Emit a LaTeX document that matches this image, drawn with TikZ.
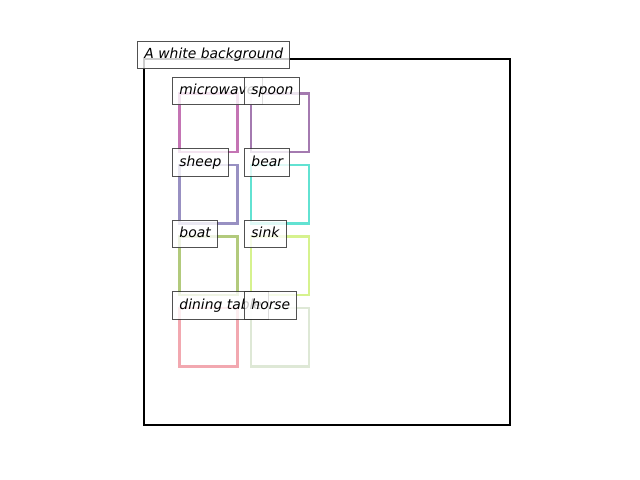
\documentclass[tikz,border=0pt]{standalone}
\usepackage{fontspec}
\setmainfont{DejaVu Sans}
\definecolor{cMicrowave}{HTML}{C474B4}
\definecolor{cSpoon}{HTML}{A47AB0}
\definecolor{cSheep}{HTML}{9890C2}
\definecolor{cBear}{HTML}{62E2D2}
\definecolor{cBoat}{HTML}{B2CA7C}
\definecolor{cSink}{HTML}{D6F28E}
\definecolor{cDining}{HTML}{F2A8B0}
\definecolor{cHorse}{HTML}{DEE8D6}
\begin{document}
\begin{tikzpicture}[x=0.72pt,y=-0.72pt]
				\tikzstyle{Square} = [draw, line width=1.9pt, minimum size=42pt, inner sep=0pt]
				\tikzstyle{Label} = [anchor=north west, draw=black!80, draw opacity=0.85, fill=white, fill opacity=0.8, text opacity=1, line width=0.7pt, inner xsep=4.8pt, inner ysep=5pt, text height=7.6pt, text depth=2.3pt, font=\itshape]
				\useasboundingbox (0,0) rectangle (640,480);
				\draw [line width=1.5pt] (144,59) rectangle (510,425);
				% squares
				\node (microwave) at (208.5,122.8) [Square, draw=cMicrowave] {};
				\node (spoon) at (280,122.8) [Square, draw=cSpoon] {};
				\node (sheep) at (208.5,194.3) [Square, draw=cSheep] {};
				\node (bear) at (280,194.3) [Square, draw=cBear] {};
				\node (boat) at (208.5,265.8) [Square, draw=cBoat] {};
				\node (sink) at (280,265.8) [Square, draw=cSink] {};
				\node (dining) at (208.5,337.3) [Square, draw=cDining] {};
				\node (horse) at (280,337.3) [Square, draw=cHorse] {};
				% labels
				\node (background-l) at (137.3,40.7) [Label] {A white background};
				\node (microwave-l) at (172.3,76.7) [Label] {microwave};
				\node (spoon-l) at (244.3,76.7) [Label] {spoon};
				\node (sheep-l) at (172.3,148.2) [Label] {sheep};
				\node (bear-l) at (244.3,148.2) [Label] {bear};
				\node (boat-l) at (172.3,219.5) [Label] {boat};
				\node (sink-l) at (244.3,219.5) [Label] {sink};
				\node (dining-l) at (172.3,291.1) [Label] {dining table};
				\node (horse-l) at (244.3,291.1) [Label] {horse};
			\end{tikzpicture}
\end{document}
